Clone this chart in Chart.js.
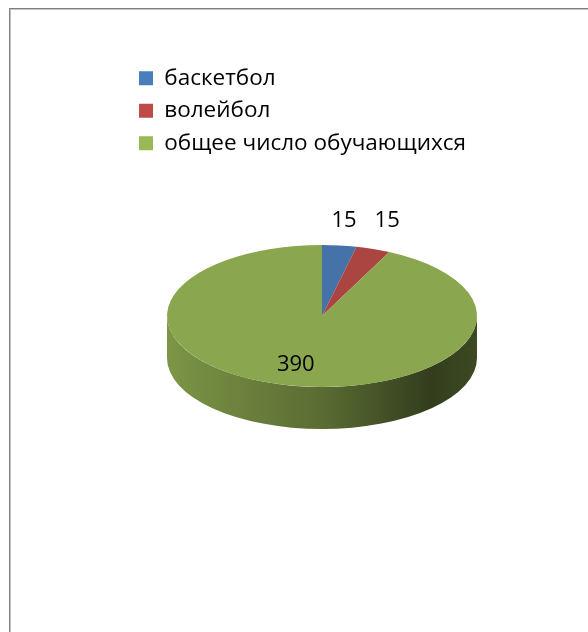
<!DOCTYPE html>
<html>
<head>
<meta charset="utf-8">
<script src="https://cdn.jsdelivr.net/npm/chart.js@4/dist/chart.umd.min.js"></script>
<style>
  html, body { margin: 0; padding: 0; background: #fff; overflow: hidden; }
  #frame {
    position: absolute; left: 9px; top: 8px; width: 700px; height: 700px;
    border-left: 1px solid #808080; border-top: 1px solid #808080;
    box-shadow: inset 1px 1px 0 #c4c4c4;
  }
  #chart { position: absolute; left: 0; top: 0; }
</style>
</head>
<body>
<div id="frame"></div>
<canvas id="chart" width="588" height="632"></canvas>
<script>
'use strict';

const categories = ['баскетбол', 'волейбол', 'общее число обучающихся'];
const studentCounts = [15, 15, 390];

// top face colours and brighter legend swatches
const sliceColours = ['#4672aa', '#aa4541', '#8aa64e'];
const legendColours = ['#4a7ebb', '#be4b48', '#98b954'];

// where the flattened pie sits on the page
const pie = { x: 322, y: 316, rx: 155, ry: 71, depth: 42 };

let canvasElem = document.getElementById('chart');

function shade(hex, f) {
  const n = parseInt(hex.slice(1), 16);
  const r = Math.round(((n >> 16) & 255) * f);
  const g = Math.round(((n >> 8) & 255) * f);
  const b = Math.round((n & 255) * f);
  return 'rgb(' + r + ',' + g + ',' + b + ')';
}

const pie3d = {
  id: 'pie3d',
  beforeDatasetsDraw(chart) {
    const ctx = chart.ctx;
    const arcs = chart.getDatasetMeta(0).data;

    // front wall of the disc, only the part facing us (0..PI)
    arcs.forEach((arc, i) => {
      const s = Math.max(arc.startAngle, 0);
      const e = Math.min(arc.endAngle, Math.PI);
      if (s >= e) return;
      const grad = ctx.createLinearGradient(pie.x - pie.rx, 0, pie.x + pie.rx, 0);
      const c = sliceColours[i];
      grad.addColorStop(0, shade(c, 0.9));
      grad.addColorStop(0.5, shade(c, 0.65));
      grad.addColorStop(0.85, shade(c, 0.37));
      grad.addColorStop(1, shade(c, 0.44));
      ctx.save();
      ctx.beginPath();
      ctx.ellipse(pie.x, pie.y, pie.rx, pie.ry, 0, s, e);
      ctx.lineTo(pie.x + pie.rx * Math.cos(e), pie.y + pie.depth + pie.ry * Math.sin(e));
      ctx.ellipse(pie.x, pie.y + pie.depth, pie.rx, pie.ry, 0, e, s, true);
      ctx.closePath();
      ctx.fillStyle = grad;
      ctx.fill();
      ctx.restore();
    });

    // squash the library's own arcs onto the top face
    const a = arcs[0];
    ctx.save();
    ctx.translate(pie.x, pie.y);
    ctx.scale(pie.rx / a.outerRadius, pie.ry / a.outerRadius);
    ctx.translate(-a.x, -a.y);
  },
  afterDatasetsDraw(chart) {
    const ctx = chart.ctx;
    ctx.restore();

    const arcs = chart.getDatasetMeta(0).data;
    const total = studentCounts.reduce((s, v) => s + v, 0);
    ctx.save();
    ctx.font = '22px "Open Sans"';
    ctx.fillStyle = '#000';
    ctx.textAlign = 'center';
    ctx.textBaseline = 'middle';
    arcs.forEach((arc, i) => {
      const v = studentCounts[i];
      const m = (arc.startAngle + arc.endAngle) / 2;
      const txt = String(v);
      let lx, ly;
      if (v / total > 0.2) {
        lx = pie.x + pie.rx * 0.76 * Math.cos(m);
        ly = pie.y + pie.ry * 0.7 * Math.sin(m);
      } else {
        // small slices: label sits just outside the rim
        const w = ctx.measureText(txt).width;
        lx = pie.x + pie.rx * Math.cos(m) + Math.cos(m) * (12 + w * 1.2);
        ly = pie.y - pie.ry - 24;
      }
      ctx.fillText(txt, lx, ly);
    });
    ctx.restore();
  }
};

function renderChart() {
  return new Chart(canvasElem, {
    type: 'pie',
    data: {
      labels: categories,
      datasets: [
        {
          data: studentCounts,
          backgroundColor: sliceColours,
          borderWidth: 0,
          clip: false,
        },
      ],
    },
    options: {
      responsive: false,
      devicePixelRatio: 1,
      animation: false,
      events: [],
      layout: {
        padding: { left: 129, top: 57 },
      },
      plugins: {
        tooltip: { enabled: false },
        legend: {
          position: 'left',
          align: 'start',
          maxWidth: 420,
          labels: {
            boxWidth: 14,
            boxHeight: 14,
            padding: 10,
            color: '#000',
            font: { family: '"Open Sans"', size: 22.5 },
            generateLabels(chart) {
              return categories.map((name, i) => ({
                text: name,
                fillStyle: legendColours[i],
                strokeStyle: legendColours[i],
                lineWidth: 0,
                hidden: false,
                index: i,
              }));
            },
          },
        },
      },
    },
    plugins: [pie3d],
  });
}

renderChart();
</script>
</body>
</html>
